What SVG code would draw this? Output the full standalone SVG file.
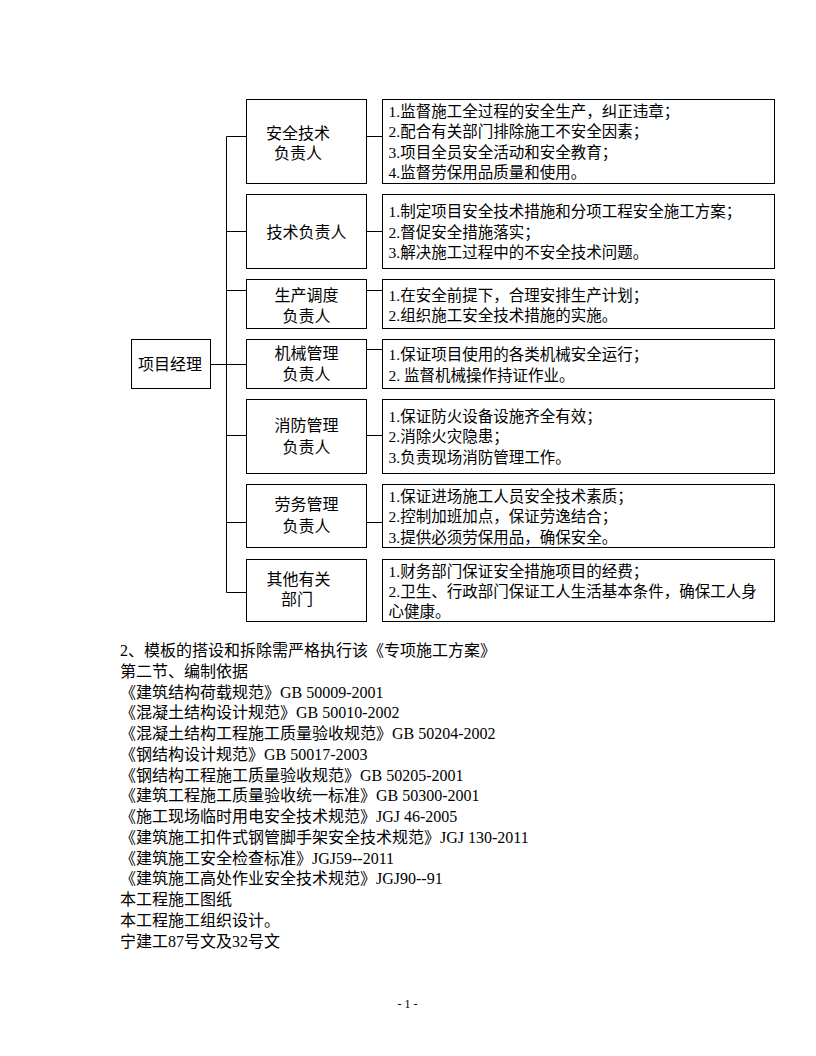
<svg xmlns="http://www.w3.org/2000/svg" width="816" height="1056" viewBox="0 0 816 1056">
<style>
.box{fill:#fff;stroke:#000;stroke-width:1}
.ln{stroke:#000;stroke-width:1;fill:none}
text{font-family:"Liberation Serif","Noto Sans CJK SC",serif;fill:#000}
.lbl{font-size:16px;text-anchor:middle}
.dsc{font-size:15.5px}
.body{font-size:16px}
.pg{font-size:12px;text-anchor:middle}
</style>
<rect x="0" y="0" width="816" height="1056" fill="#fff"/>
<g id="connectors">
<path class="ln" d="M226.5 136.5V592.5"/>
<path class="ln" d="M226.5 136.5H246.5M226.5 231.5H246.5M226.5 290.5H246.5M210.5 364.5H246.5M226.5 435.5H246.5M226.5 522.5H246.5M226.5 592.5H246.5"/>
<path class="ln" d="M366.5 136.5H382.5M366.5 231.5H382.5M366.5 290.5H382.5M366.5 349.5H382.5M366.5 435.5H382.5M366.5 522.5H382.5"/>
</g>
<g id="pm"><rect class="box" x="131.5" y="339.5" width="79" height="49"/><text class="lbl" x="170" y="370">项目经理</text></g>
<g id="n1"><rect class="box" x="246.5" y="99.5" width="120" height="84"/><text class="lbl"><tspan x="298" y="139">安全技术</tspan><tspan x="298" y="159">负责人</tspan></text></g>
<g id="n2"><rect class="box" x="246.5" y="194.5" width="120" height="74"/><text class="lbl" x="306.5" y="238">技术负责人</text></g>
<g id="n3"><rect class="box" x="246.5" y="279.5" width="120" height="49"/><text class="lbl"><tspan x="306.5" y="301">生产调度</tspan><tspan x="306.5" y="322">负责人</tspan></text></g>
<g id="n4"><rect class="box" x="246.5" y="339.5" width="120" height="49"/><text class="lbl"><tspan x="306.5" y="359">机械管理</tspan><tspan x="306.5" y="380">负责人</tspan></text></g>
<g id="n5"><rect class="box" x="246.5" y="399.5" width="120" height="74"/><text class="lbl"><tspan x="306.5" y="431">消防管理</tspan><tspan x="306.5" y="453">负责人</tspan></text></g>
<g id="n6"><rect class="box" x="246.5" y="484.5" width="120" height="63"/><text class="lbl"><tspan x="306.5" y="510">劳务管理</tspan><tspan x="306.5" y="532">负责人</tspan></text></g>
<g id="n7"><rect class="box" x="246.5" y="559.5" width="120" height="62"/><text class="lbl"><tspan x="298.5" y="585">其他有关</tspan><tspan x="297" y="605">部门</tspan></text></g>
<g id="d1"><rect class="box" x="382.5" y="99.5" width="392" height="84"/><text class="dsc"><tspan x="388.5" y="117">1.监督施工全过程的安全生产，纠正违章；</tspan><tspan x="388.5" y="137">2.配合有关部门排除施工不安全因素；</tspan><tspan x="388.5" y="158">3.项目全员安全活动和安全教育；</tspan><tspan x="388.5" y="178">4.监督劳保用品质量和使用。</tspan></text></g>
<g id="d2"><rect class="box" x="382.5" y="194.5" width="392" height="74"/><text class="dsc"><tspan x="388.5" y="217">1.制定项目安全技术措施和分项工程安全施工方案；</tspan><tspan x="388.5" y="238">2.督促安全措施落实；</tspan><tspan x="388.5" y="258">3.解决施工过程中的不安全技术问题。</tspan></text></g>
<g id="d3"><rect class="box" x="382.5" y="279.5" width="392" height="49"/><text class="dsc"><tspan x="388.5" y="301">1.在安全前提下，合理安排生产计划；</tspan><tspan x="388.5" y="321">2.组织施工安全技术措施的实施。</tspan></text></g>
<g id="d4"><rect class="box" x="382.5" y="339.5" width="392" height="49"/><text class="dsc"><tspan x="388.5" y="360">1.保证项目使用的各类机械安全运行；</tspan><tspan x="388.5" y="381">2. 监督机械操作持证作业。</tspan></text></g>
<g id="d5"><rect class="box" x="382.5" y="399.5" width="392" height="74"/><text class="dsc"><tspan x="388.5" y="422">1.保证防火设备设施齐全有效；</tspan><tspan x="388.5" y="442">2.消除火灾隐患；</tspan><tspan x="388.5" y="463">3.负责现场消防管理工作。</tspan></text></g>
<g id="d6"><rect class="box" x="382.5" y="484.5" width="392" height="63"/><text class="dsc"><tspan x="388.5" y="502">1.保证进场施工人员安全技术素质；</tspan><tspan x="388.5" y="522">2.控制加班加点，保证劳逸结合；</tspan><tspan x="388.5" y="543">3.提供必须劳保用品，确保安全。</tspan></text></g>
<g id="d7"><rect class="box" x="382.5" y="559.5" width="392" height="62"/><text class="dsc"><tspan x="388.5" y="577">1.财务部门保证安全措施项目的经费；</tspan><tspan x="388.5" y="597">2.卫生、行政部门保证工人生活基本条件，确保工人身</tspan><tspan x="388.5" y="617">心健康。</tspan></text></g>
<g id="body-text">
<text class="body" x="120" y="656">2、模板的搭设和拆除需严格执行该《专项施工方案》</text>
<text class="body" x="120" y="676.8">第二节、编制依据</text>
<text class="body" x="120" y="697.5">《建筑结构荷载规范》GB 50009-2001</text>
<text class="body" x="120" y="718.3">《混凝土结构设计规范》GB 50010-2002</text>
<text class="body" x="120" y="739">《混凝土结构工程施工质量验收规范》GB 50204-2002</text>
<text class="body" x="120" y="759.8">《钢结构设计规范》GB 50017-2003</text>
<text class="body" x="120" y="780.5">《钢结构工程施工质量验收规范》GB 50205-2001</text>
<text class="body" x="120" y="801.3">《建筑工程施工质量验收统一标准》GB 50300-2001</text>
<text class="body" x="120" y="822">《施工现场临时用电安全技术规范》JGJ 46-2005</text>
<text class="body" x="120" y="842.8">《建筑施工扣件式钢管脚手架安全技术规范》JGJ 130-2011</text>
<text class="body" x="120" y="863.5">《建筑施工安全检查标准》JGJ59--2011</text>
<text class="body" x="120" y="884.3">《建筑施工高处作业安全技术规范》JGJ90--91</text>
<text class="body" x="120" y="905">本工程施工图纸</text>
<text class="body" x="120" y="925.8">本工程施工组织设计。</text>
<text class="body" x="120" y="946.5">宁建工87号文及32号文</text>
</g>
<text class="pg" x="407.5" y="1008">- 1 -</text>
</svg>
